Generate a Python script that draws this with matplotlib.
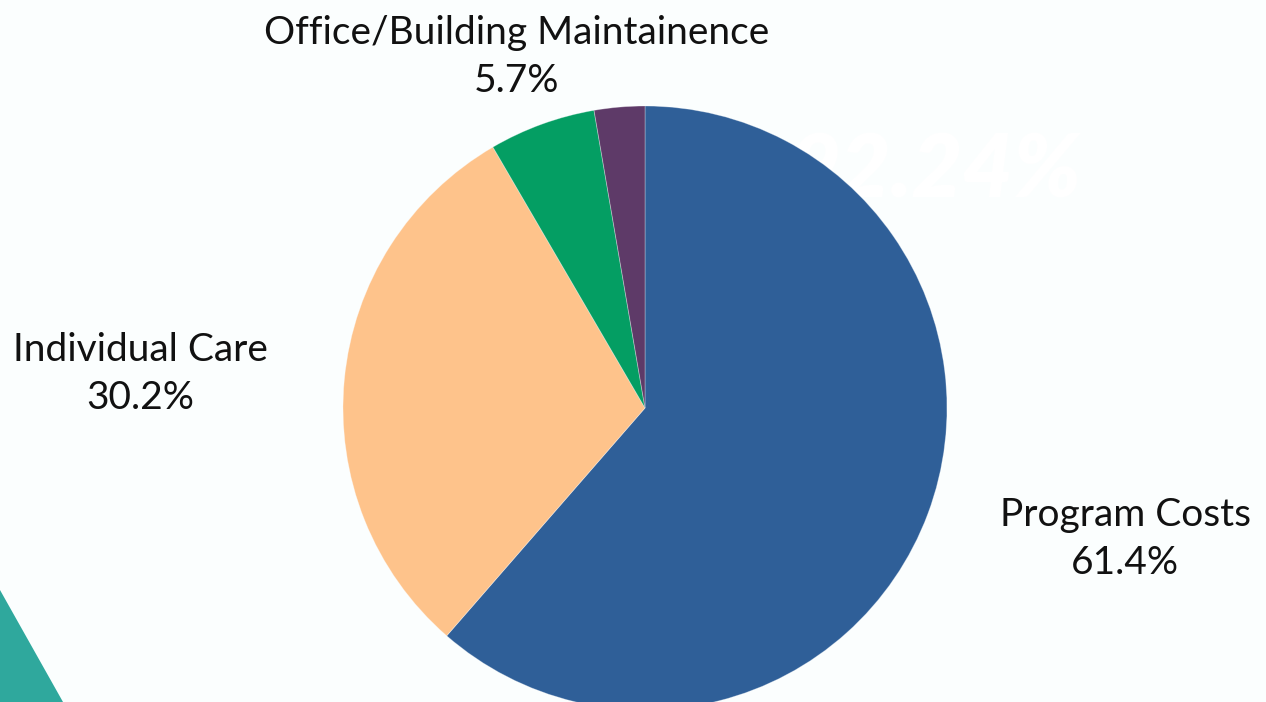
import matplotlib.pyplot as plt
from matplotlib.patches import Polygon

categories = ['Program Costs', 'Individual Care', 'Office/Building Maintainence', 'Other']
values = [61.4, 30.2, 5.7, 2.7]
colors = ['#2F5F98', '#FEC38B', '#049E63', '#5E3A68']
show_label = [True, True, True, False]
# label centres, pixels from the top-left corner
label_pos = [(1125, 539), (140, 374), (517, 57), None]

W, H = 1266, 702
bg = '#FBFEFE'

plt.rcParams['font.family'] = ['Lato', 'DejaVu Sans']

fig = plt.figure(figsize=(W / 100, H / 100), dpi=100, facecolor=bg)
ax = fig.add_axes([0, 0, 1, 1])
ax.set_facecolor(bg)

# background decoration
ax.add_patch(Polygon([(0, H - 590), (63, 0), (0, 0)], closed=True,
                     facecolor='#2FA89D', edgecolor='none', zorder=0))
ax.text(935, H - 172, '92.24%', color='white', fontsize=63, fontweight='heavy',
        fontstyle='italic', ha='center', va='center', zorder=0.5)

wedges, _ = ax.pie(values, colors=colors, startangle=90, counterclock=False,
                   center=(645, H - 408), radius=302,
                   wedgeprops=dict(linewidth=0.6, edgecolor=(1, 1, 1, 0.35)))
for w in wedges:
    w.set_zorder(1)

for cat, v, show, pos in zip(categories, values, show_label, label_pos):
    if not show:
        continue
    x, y = pos
    ax.text(x, H - y, f'{cat}\n{v:.1f}%', ha='center', va='center', fontsize=28,
            color='#111111', linespacing=1.42, zorder=2)

ax.set_xlim(0, W)
ax.set_ylim(0, H)
ax.set_aspect('equal')
ax.axis('off')

fig.savefig('out.png', dpi=100, facecolor=bg)
